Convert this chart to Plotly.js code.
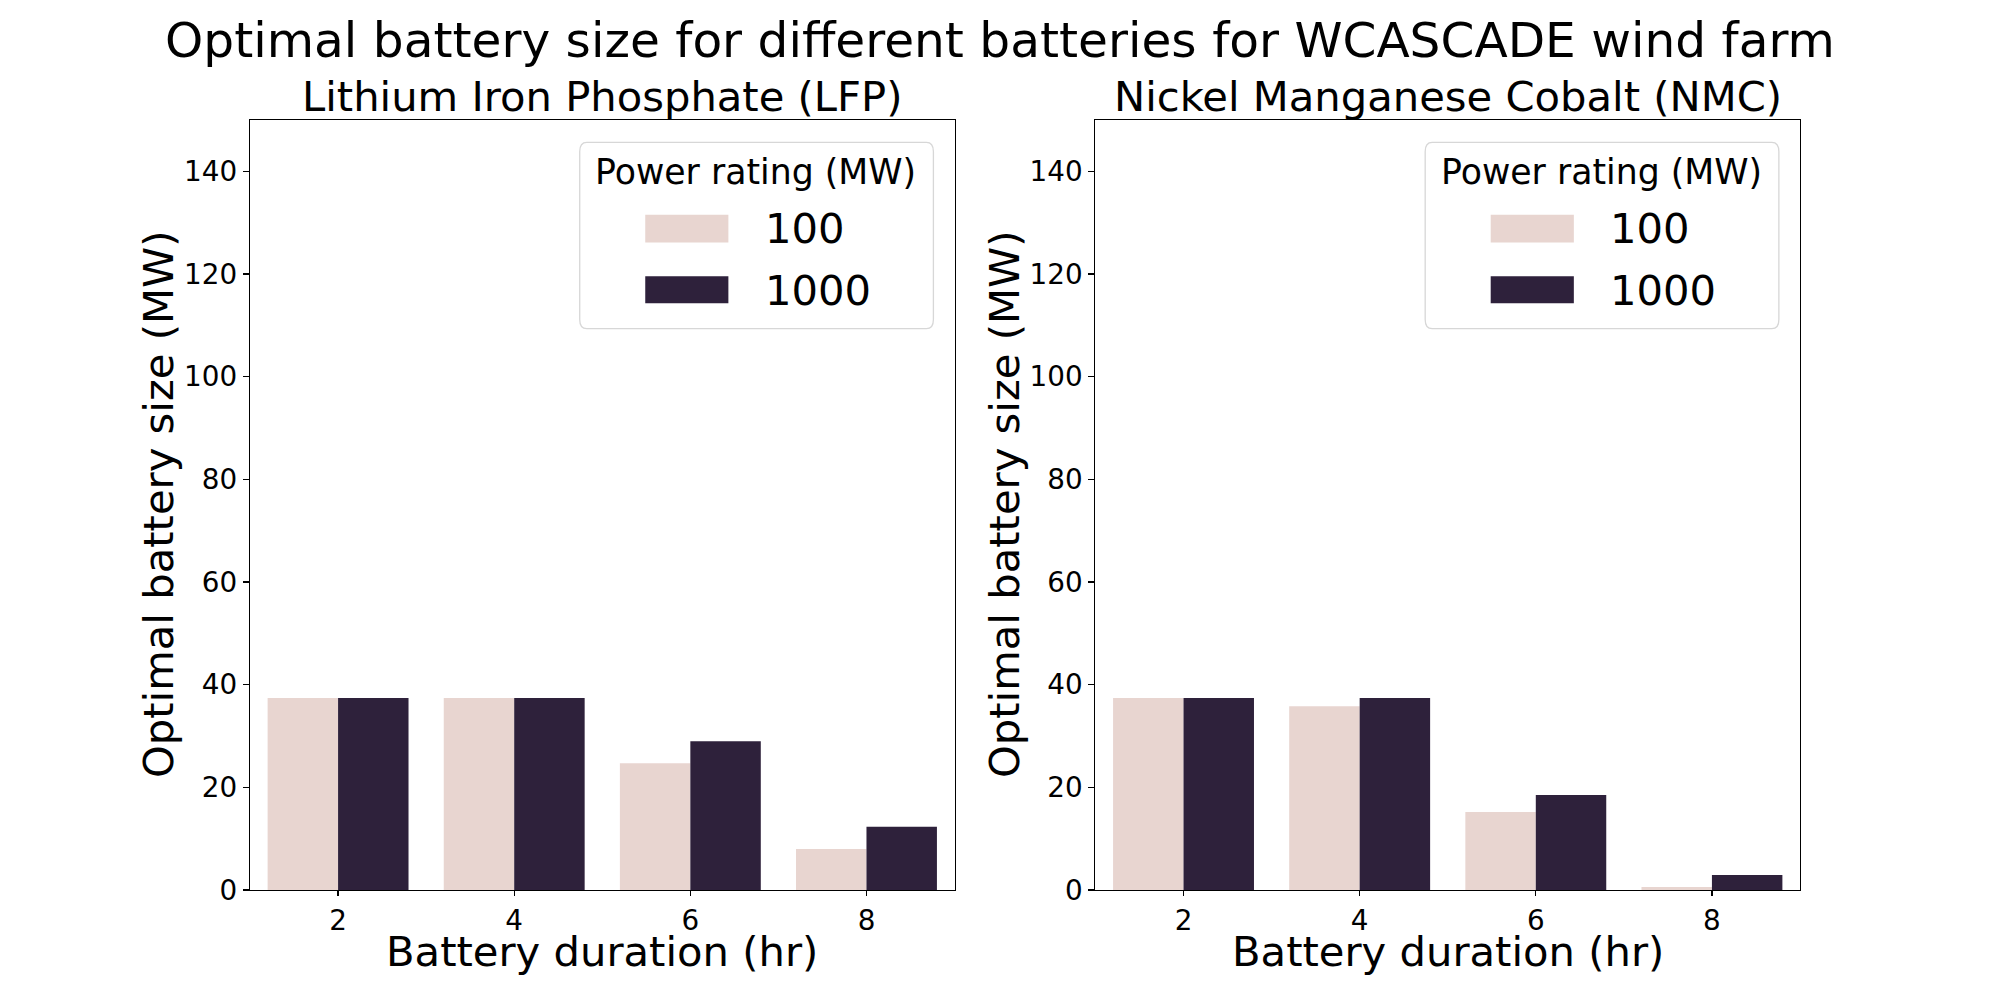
<!DOCTYPE html>
<html>
<head>
<meta charset="utf-8">
<script src="https://cdn.plot.ly/plotly-3.0.1.min.js"></script>
<style>
  html, body { margin: 0; padding: 0; background: #fff; }
  #chart { width: 2000px; height: 1000px; }
</style>
</head>
<body>
<div id="chart"></div>
<script>
// data
var durations = ["2", "4", "6", "8"];
var ratings = ["100", "1000"];
var lfp100 = [37.4, 37.4, 24.7, 8.0];
var lfp1000 = [37.4, 37.4, 29.0, 12.3];
var nmc100 = [37.4, 35.8, 15.2, 0.6];
var nmc1000 = [37.4, 37.4, 18.5, 2.9];
var yTicks = [0, 20, 40, 60, 80, 100, 120, 140];

var colors = { "100": "rgb(232,213,208)", "1000": "rgb(46,33,59)" };
var font = "DejaVu Sans, Liberation Sans, sans-serif";

function bars(y, rating, xa, ya) {
  return {
    x: durations, y: y, name: rating, type: "bar",
    xaxis: xa, yaxis: ya,
    marker: { color: colors[rating], line: { width: 0 } },
    showlegend: false,
    hovertemplate: "%{x} hr: %{y} MW<extra>" + rating + " MW</extra>"
  };
}

var data = [
  bars(lfp100, "100", "x", "y"),
  bars(lfp1000, "1000", "x", "y"),
  bars(nmc100, "100", "x2", "y2"),
  bars(nmc1000, "1000", "x2", "y2")
];

function xAxis(domain, anchor) {
  return {
    domain: domain, anchor: anchor, type: "category",
    showline: true, mirror: true, linecolor: "black", linewidth: 1.3,
    ticks: "outside", ticklen: 5, tickwidth: 1.2, tickcolor: "black",
    showgrid: false, zeroline: false,
    tickfont: { family: font, size: 27.8, color: "black" }
  };
}
function yAxis(domain, anchor) {
  return {
    domain: domain, anchor: anchor, range: [0, 150],
    tickvals: yTicks, ticktext: yTicks.map(String),
    showline: true, mirror: true, linecolor: "black", linewidth: 1.3,
    ticks: "outside", ticklen: 6, tickwidth: 1.2, tickcolor: "black",
    showgrid: false, zeroline: false,
    tickfont: { family: font, size: 27.8, color: "black" }
  };
}

// legend drawn relative to each subplot's domain
var shapes = [];
var annotations = [];
function legendFor(xa, ya) {
  var xr = xa + " domain", yr = ya + " domain";
  shapes.push({
    type: "path", xref: xr, yref: yr,
    path: "M0.478,0.971 L0.960,0.971 Q0.970,0.971 0.970,0.959 L0.970,0.741 Q0.970,0.729 0.960,0.729 L0.478,0.729 Q0.468,0.729 0.468,0.741 L0.468,0.959 Q0.468,0.971 0.478,0.971 Z",
    line: { color: "rgb(215,215,215)", width: 1.3 }, fillcolor: "rgba(255,255,255,0.8)", layer: "above"
  });
  annotations.push({
    xref: xr, yref: yr, x: 0.718, y: 0.932, xanchor: "center", yanchor: "middle",
    text: "Power rating (MW)", showarrow: false,
    font: { family: font, size: 34.7, color: "black" }
  });
  var ys = [[0.841, 0.877, 0.859], [0.762, 0.797, 0.779]];
  ratings.forEach(function (r, i) {
    shapes.push({
      type: "rect", xref: xr, yref: yr, x0: 0.561, x1: 0.679, y0: ys[i][0], y1: ys[i][1],
      fillcolor: colors[r], line: { width: 0 }, layer: "above"
    });
    annotations.push({
      xref: xr, yref: yr, x: 0.728, y: ys[i][2], xanchor: "left", yanchor: "middle",
      text: r, showarrow: false, font: { family: font, size: 41.7, color: "black" }
    });
  });
}
legendFor("x", "y");
legendFor("x2", "y2");

var subTitles = ["Lithium Iron Phosphate (LFP)", "Nickel Manganese Cobalt (NMC)"];
var yTitleX = [0.079, 0.502];
[["x", "y", 0], ["x2", "y2", 1]].forEach(function (p) {
  var i = p[2];
  annotations.push({
    xref: p[0] + " domain", yref: "paper", x: 0.5, y: 0.903, xanchor: "center", yanchor: "middle",
    text: subTitles[i], showarrow: false, font: { family: font, size: 41.7, color: "black" }
  });
  annotations.push({
    xref: p[0] + " domain", yref: "paper", x: 0.5, y: 0.049, xanchor: "center", yanchor: "middle",
    text: "Battery duration (hr)", showarrow: false, font: { family: font, size: 41.7, color: "black" }
  });
  annotations.push({
    xref: "paper", yref: p[1] + " domain", x: yTitleX[i], y: 0.5, xanchor: "center", yanchor: "middle",
    textangle: -90, text: "Optimal battery size (MW)", showarrow: false,
    font: { family: font, size: 41.7, color: "black" }
  });
});

var layout = {
  width: 2000, height: 1000,
  margin: { l: 0, r: 0, t: 0, b: 0 },
  paper_bgcolor: "white", plot_bgcolor: "white",
  title: {
    text: "Optimal battery size for different batteries for WCASCADE wind farm",
    font: { family: font, size: 48.6, color: "black" },
    x: 0.5, xanchor: "center", y: 0.9605, yanchor: "middle"
  },
  barmode: "group", bargap: 0.2, bargroupgap: 0,
  xaxis: xAxis([0.125, 0.47727], "y"),
  yaxis: yAxis([0.11, 0.88], "x"),
  xaxis2: xAxis([0.54773, 0.9], "y2"),
  yaxis2: yAxis([0.11, 0.88], "x2"),
  shapes: shapes,
  annotations: annotations
};

Plotly.newPlot("chart", data, layout, { displayModeBar: false, staticPlot: true });
</script>
</body>
</html>
